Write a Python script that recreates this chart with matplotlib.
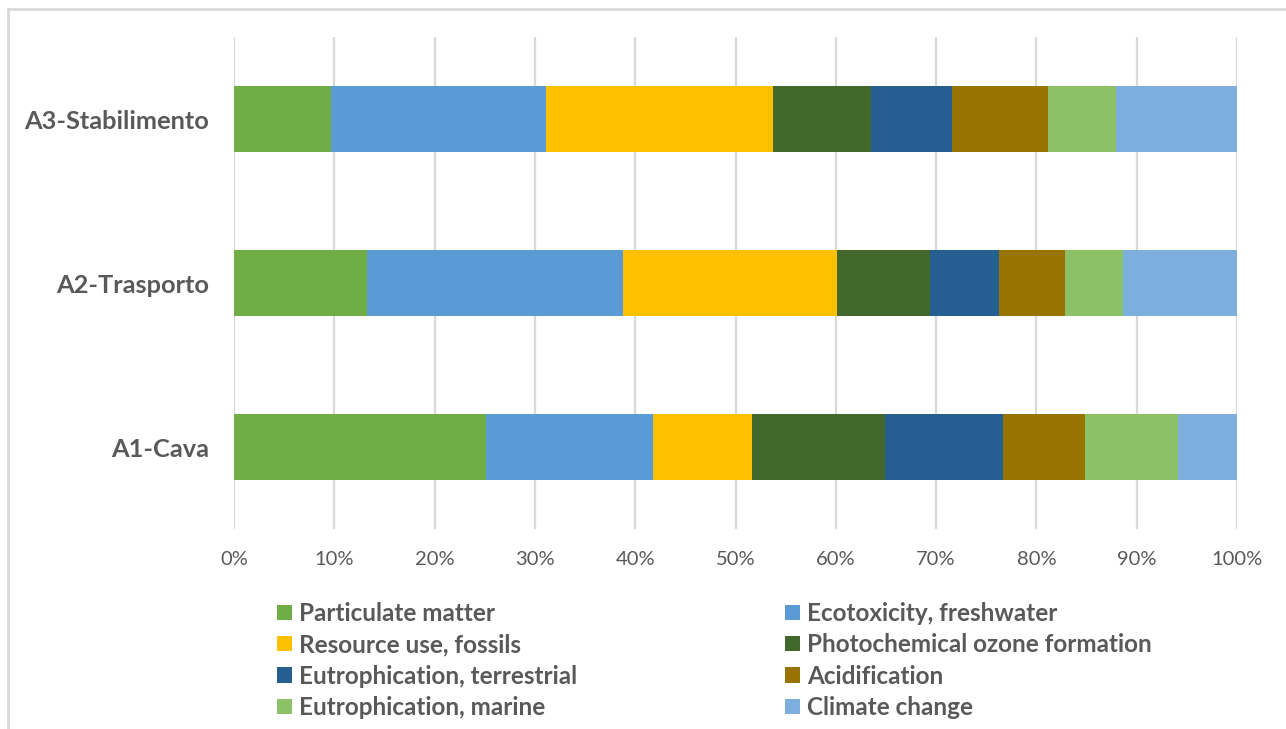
from matplotlib import pyplot as plt
from matplotlib.lines import Line2D
from matplotlib.ticker import PercentFormatter
import numpy as np

# Phases (bottom to top)
phases = ['A1-Cava', 'A2-Trasporto', 'A3-Stabilimento']

categories = ['Particulate matter', 'Ecotoxicity, freshwater',
              'Resource use, fossils', 'Photochemical ozone formation',
              'Eutrophication, terrestrial', 'Acidification',
              'Eutrophication, marine', 'Climate change']

# percent share of each category, order: A1, A2, A3
particulate = [25.1, 13.3, 9.7]
ecotox = [16.7, 25.5, 21.4]
resource = [9.8, 21.3, 22.6]
photochem = [13.3, 9.3, 9.8]
eutro_terr = [11.8, 6.9, 8.1]
acidif = [8.1, 6.6, 9.6]
eutro_marine = [9.3, 5.7, 6.7]
climate = [5.9, 11.4, 12.1]

series = [particulate, ecotox, resource, photochem,
          eutro_terr, acidif, eutro_marine, climate]
colors = ['#70AD47', '#5B9BD5', '#FFC000', '#43682B',
          '#255E91', '#997300', '#8CC168', '#7CAFDD']

txt = '#595959'
plt.rcParams['font.family'] = ['Lato', 'DejaVu Sans']

fig = plt.figure(figsize=(12.86, 7.29), dpi=100)
ax = fig.add_axes([234 / 1286, 0.274, 1003 / 1286, 0.675])

y = np.arange(len(phases))
left = np.zeros(len(phases))
handles = []
for vals, c, lab in zip(series, colors, categories):
    vals = np.array(vals)
    b = ax.barh(y, vals, left=left, height=0.4, color=c, label=lab,
                edgecolor='none', zorder=3)
    handles.append(b)
    left += vals

ax.set_xlim(0, 100)
ax.set_ylim(-0.5, 2.5)
ax.set_xticks(np.arange(0, 101, 10))
ax.xaxis.set_major_formatter(PercentFormatter(decimals=0))
ax.set_yticks(y)
ax.set_yticklabels(phases, fontsize=18.3, fontweight='bold', color=txt)
ax.tick_params(axis='y', length=0, pad=18)
ax.tick_params(axis='x', length=0, pad=16, labelsize=14.5, labelcolor=txt)
ax.grid(axis='x', color='#D9D9D9', linewidth=1.6, zorder=0)
for s in ax.spines.values():
    s.set_visible(False)

# legend: two columns, row-major order
kw = dict(frameon=False, loc='upper left', borderpad=0, borderaxespad=0,
          handlelength=0.6, handleheight=0.6, handletextpad=0.3,
          labelspacing=0.34,
          prop={'family': 'Lato', 'weight': 'bold', 'size': 17.5},
          labelcolor=txt)
fig.legend(handles[0::2], categories[0::2],
           bbox_to_anchor=(277 / 1286, 1 - 602 / 729), **kw)
fig.legend(handles[1::2], categories[1::2],
           bbox_to_anchor=(785 / 1286, 1 - 602 / 729), **kw)

# chart area frame (top and left edges visible)
fig.add_artist(Line2D([8 / 1286, 1], [1 - 9 / 729, 1 - 9 / 729],
                      color='#D9D9D9', linewidth=2, transform=fig.transFigure))
fig.add_artist(Line2D([8 / 1286, 8 / 1286], [0, 1 - 9 / 729],
                      color='#D9D9D9', linewidth=2, transform=fig.transFigure))

plt.savefig('out.png', dpi=100)
